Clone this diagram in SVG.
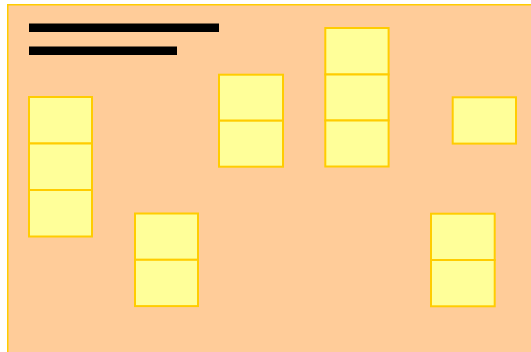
<svg xmlns="http://www.w3.org/2000/svg" width="531" height="352" viewBox="0 0 531 352">
<style>
.bg{fill:#ffcc99;stroke:#ffcc00;stroke-width:1.5}
.box{fill:#ffff99;stroke:#ffcc00;stroke-width:2}
.bar{fill:#000000}
</style>
<rect width="531" height="352" fill="#ffffff"/>
<rect class="bg" x="7.75" y="4.75" width="530" height="360"/>
<rect class="bar" x="29" y="23.5" width="190" height="8.5"/>
<rect class="bar" x="29" y="46.5" width="148" height="8.5"/>
<g id="stack1">
<rect class="box" x="29" y="97" width="63" height="46.5"/>
<rect class="box" x="29" y="143.5" width="63" height="46.5"/>
<rect class="box" x="29" y="190" width="63" height="46.5"/>
</g>
<g id="stack2">
<rect class="box" x="135" y="213.5" width="63" height="46.3"/>
<rect class="box" x="135" y="259.8" width="63" height="46.3"/>
</g>
<g id="stack3">
<rect class="box" x="219" y="74.7" width="64" height="46"/>
<rect class="box" x="219" y="120.7" width="64" height="46"/>
</g>
<g id="stack4">
<rect class="box" x="325.3" y="28" width="63.3" height="46.5"/>
<rect class="box" x="325.3" y="74.5" width="63.3" height="46"/>
<rect class="box" x="325.3" y="120.5" width="63.3" height="46"/>
</g>
<g id="single">
<rect class="box" x="452.7" y="97.3" width="63.3" height="46.3"/>
</g>
<g id="stack6">
<rect class="box" x="431" y="213.7" width="63.7" height="46.3"/>
<rect class="box" x="431" y="260" width="63.7" height="46.3"/>
</g>
<g id="connectors"></g>
</svg>
